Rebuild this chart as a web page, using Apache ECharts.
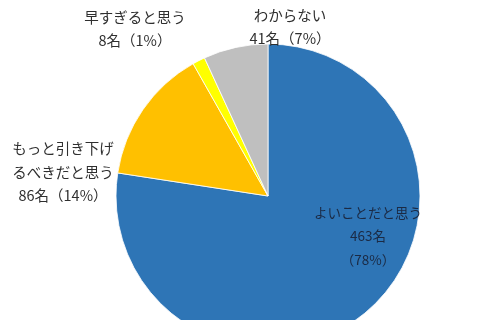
<!DOCTYPE html>
<html><head><meta charset="utf-8">
<script src="https://cdn.jsdelivr.net/npm/echarts@6/dist/echarts.min.js"></script>
<style>html,body{margin:0;padding:0;background:#fff}#c{width:480px;height:320px}</style>
</head><body><div id="c"></div>
<script>
const categories = ['よいことだと思う', 'もっと引き下げるべきだと思う', '早すぎると思う', 'わからない'];
const labelNames = ['よいことだと思う', 'もっと引き下げ\nるべきだと思う', '早すぎると思う', 'わからない'];
const counts = [463, 86, 8, 41];
const percents = ['78%', '14%', '1%', '7%'];
const colors = ['#2E75B6', '#FFC000', '#FFFF00', '#BFBFBF'];

const labelPos = [[368, 236], [63, 172], [135, 29], [290, 27]];

const data = categories.map((c, i) => ({
  name: c,
  value: counts[i],
  itemStyle: { color: colors[i] },
  label: {
    formatter: i === 0
      ? labelNames[i] + '\n' + counts[i] + '名\n（' + percents[i] + '）'
      : labelNames[i] + '\n' + counts[i] + '名（' + percents[i] + '）',
    color: i === 0 ? '#1b2a44' : '#2f2f2f',
    fontSize: i === 0 ? 13.5 : 14.5
  }
}));

const chart = echarts.init(document.getElementById('c'));
chart.setOption({
  animation: false,
  backgroundColor: '#ffffff',
  series: [{
    type: 'pie',
    center: [268, 196],
    radius: 152,
    startAngle: 90,
    clockwise: true,
    data: data,
    itemStyle: { borderColor: '#ffffff', borderWidth: 0.8 },
    label: {
      show: true,
      position: 'inside',
      fontFamily: '"Noto Sans CJK JP", sans-serif',
      lineHeight: 23.5,
      align: 'center'
    },
    labelLine: { show: false },
    labelLayout: function (p) {
      const pos = labelPos[p.dataIndex];
      return { x: pos[0], y: pos[1], align: 'center', verticalAlign: 'middle' };
    }
  }]
});
</script></body></html>
